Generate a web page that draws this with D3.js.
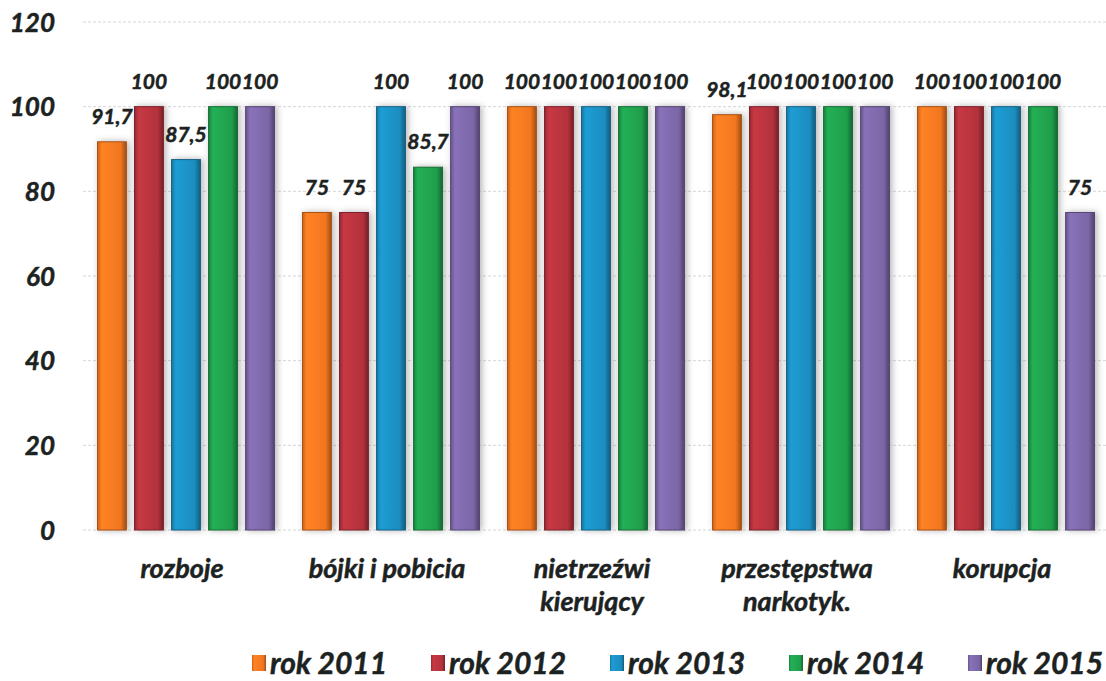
<!DOCTYPE html>
<html>
<head>
<meta charset="utf-8">
<script src="https://cdn.jsdelivr.net/npm/d3@7"></script>
<style>
  body { margin: 0; background: #fff; }
  svg text { font-family: Lato, 'Open Sans', sans-serif; font-weight: 700; font-style: italic; fill: #1c2221; stroke: #1c2221; stroke-width: 0.5px; }
</style>
</head>
<body>
<svg id="chart" width="1106" height="681"></svg>
<script>
const categories = [['rozboje'], ['bójki i pobicia'], ['nietrzeźwi', 'kierujący'], ['przestępstwa', 'narkotyk.'], ['korupcja']]
const series = ['rok 2011', 'rok 2012', 'rok 2013', 'rok 2014', 'rok 2015']
const values = [
  [91.7, 75, 100, 98.1, 100],   // rok 2011
  [100, 75, 100, 100, 100],     // rok 2012
  [87.5, 100, 100, 100, 100],   // rok 2013
  [100, 85.7, 100, 100, 100],   // rok 2014
  [100, 100, 100, 100, 75]      // rok 2015
]
const yTicks = [0, 20, 40, 60, 80, 100, 120]
const colors = ['#f2761f', '#b3323c', '#1b8dbf', '#1f9e4c', '#7b66a6']

const svg = d3.select('#chart')
const catNames = categories.map(c => c.join(' '))

const x0 = d3.scaleBand().domain(catNames).range([83.5, 1108.5]).padding(0)
const x1 = d3.scaleBand().domain(series).range([14, x0.bandwidth() - 14]).paddingInner(0.22)
const y = d3.scaleLinear().domain([0, 120]).range([530, 22])

// Gradients and shadow
let defs = svg.append('defs')
colors.forEach((c, i) => {
  let g = defs.append('linearGradient').attr('id', 'grad' + i)
      .attr('x1', 0).attr('x2', 1).attr('y1', 0).attr('y2', 0)
  g.append('stop').attr('offset', '0%').attr('stop-color', d3.color(c).darker(0.5))
  g.append('stop').attr('offset', '15%').attr('stop-color', d3.color(c).brighter(0.3))
  g.append('stop').attr('offset', '80%').attr('stop-color', c)
  g.append('stop').attr('offset', '100%').attr('stop-color', d3.color(c).darker(1.2))
})
defs.append('filter').attr('id', 'shadow')
    .attr('x', '-40%').attr('y', '-10%').attr('width', '180%').attr('height', '120%')
  .append('feDropShadow')
    .attr('dx', 2).attr('dy', 0).attr('stdDeviation', 3)
    .attr('flood-color', '#555').attr('flood-opacity', 0.45)

// Gridlines
svg.append('g').attr('class', 'grid')
  .selectAll('line').data(yTicks).join('line')
    .attr('x1', 83).attr('x2', 1106)
    .attr('y1', d => y(d)).attr('y2', d => y(d))
    .attr('stroke', '#d6d6d6').attr('stroke-width', 1)
    .attr('stroke-dasharray', '3,2')

// Y axis labels
let yAxis = d3.axisLeft(y).tickValues(yTicks).tickSize(0).tickPadding(0)
svg.append('g').attr('class', 'axis axis-y')
    .attr('transform', 'translate(55,0)')
    .call(yAxis)
    .call(g => g.select('.domain').remove())
    .call(g => g.selectAll('text').style('font-size', '26px').attr('dy', '0.35em')
      .style('font-family', null))

// Bars
let groups = svg.append('g').selectAll('g').data(catNames).join('g')
    .attr('transform', d => `translate(${x0(d)},0)`)

groups.each(function (cat, ci) {
  let g = d3.select(this)
  let rows = series.map((s, si) => ({ s, si, v: values[si][ci] }))
  g.selectAll('rect').data(rows).join('rect')
      .attr('x', d => x1(d.s))
      .attr('width', x1.bandwidth())
      .attr('y', d => y(d.v))
      .attr('height', d => y(0) - y(d.v))
      .attr('fill', d => `url(#grad${d.si})`)
      .attr('stroke', d => d3.color(colors[d.si]).darker(1))
      .attr('stroke-width', 1)
      .attr('filter', 'url(#shadow)')
  g.selectAll('text.val').data(rows).join('text')
      .attr('class', 'val')
      .attr('x', d => x1(d.s) + x1.bandwidth() / 2)
      .attr('y', d => y(d.v) - 18)
      .attr('text-anchor', 'middle')
      .style('font-size', '21px')
      .text(d => String(d.v).replace('.', ','))
})

// Category labels
let catText = svg.append('g').selectAll('text').data(categories).join('text')
    .attr('text-anchor', 'middle')
    .attr('transform', (d, i) => `translate(${x0(catNames[i]) + x0.bandwidth() / 2 - 4}, 578)`)
    .style('font-size', '27px')
catText.each(function (lines) {
  let t = d3.select(this)
  lines.forEach((txt, i) => {
    t.append('tspan').attr('x', 0).attr('dy', i ? '1.22em' : 0).text(txt)
  })
})

// Legend
let legend = svg.append('g').attr('transform', 'translate(252,663)')
let item = legend.selectAll('g').data(series).join('g')
    .attr('transform', (d, i) => `translate(${i * 179},0)`)
item.append('rect')
    .attr('x', 0).attr('y', -8).attr('width', 14).attr('height', 16)
    .attr('fill', (d, i) => `url(#grad${i})`)
item.append('text')
    .attr('x', 18).attr('dy', '0.35em')
    .style('font-size', '30px')
    .text(d => d)
</script>
</body>
</html>
